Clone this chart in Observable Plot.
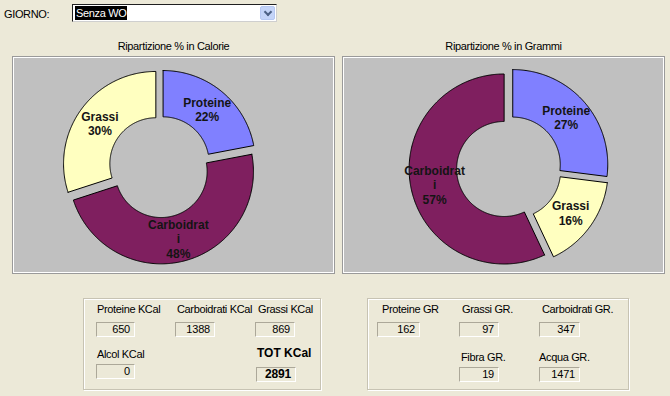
<!DOCTYPE html>
<html><head><meta charset="utf-8">
<script src="https://cdn.jsdelivr.net/npm/d3@7"></script>
<script src="https://cdn.jsdelivr.net/npm/@observablehq/plot@0.6"></script>
<style>
html,body{margin:0;padding:0;}
body{width:670px;height:396px;background:#ECE9D8;position:relative;overflow:hidden;font-family:"Liberation Sans",Arial,sans-serif;font-size:11px;color:#000;}
.abs{position:absolute;white-space:nowrap;line-height:13px;letter-spacing:-0.35px;}
.panel{position:absolute;box-sizing:border-box;background:#C0C0C0;border:1px solid #9a9a9a;box-shadow:inset 1px 1px 0 #fff, inset -1px -1px 0 #fff;}
.group{position:absolute;box-sizing:border-box;border:1px solid #c7c3b3;box-shadow:inset 1px 1px 0 #fff,1px 1px 0 #fff;}
.vbox{position:absolute;box-sizing:border-box;border-top:1px solid #aca899;border-left:1px solid #aca899;border-bottom:1px solid #fff;border-right:1px solid #fff;text-align:right;padding-right:4px;line-height:13px;letter-spacing:-0.2px;}
.chart{position:absolute;}
</style>
</head><body>
<script>
// ---- data ----
const dayLabel = "GIORNO:";
const daySelected = "Senza WO";
const chartTitles = ["Ripartizione % in Calorie", "Ripartizione % in Grammi"];
const nutrients = ["Proteine", "Carboidrati", "Grassi"];
const nutrientColors = ["#8080FF", "#7F1F5F", "#FFFFC0"];
const calorieCategories = ["Proteine", "Carboidrati", "Grassi"];
const caloriePct = [22, 48, 30];
const grammiCategories = ["Proteine", "Grassi", "Carboidrati"];
const grammiPct = [27, 16, 57];
const kcalLabels = ["Proteine KCal", "Carboidrati KCal", "Grassi KCal", "Alcol KCal", "TOT KCal"];
const kcalValues = [650, 1388, 869, 0, 2891];
const grLabels = ["Proteine GR", "Grassi GR.", "Carboidrati GR.", "Fibra GR.", "Acqua GR."];
const grValues = [162, 97, 347, 19, 1471];

// ---- layout (positions only) ----
const kcalLayout = [
  {lx:97, ly:309, bx:96, by:322, bw:39},
  {lx:177, ly:309, bx:175, by:322, bw:40},
  {lx:258, ly:309, bx:255, by:322, bw:40},
  {lx:97, ly:354, bx:96, by:364, bw:39},
  {lx:257, ly:354, bx:256, by:367, bw:40, bold:true}
];
const grLayout = [
  {lx:382, ly:309, bx:377, by:322, bw:43},
  {lx:462, ly:309, bx:459, by:322, bw:40},
  {lx:542, ly:309, bx:539, by:322, bw:41},
  {lx:461, ly:357, bx:459, by:367, bw:40},
  {lx:539, ly:357, bx:539, by:367, bw:41}
];

function el(tag, cls, style, text){
  const e = document.createElement(tag);
  if (cls) e.className = cls;
  Object.assign(e.style, style || {});
  if (text != null) e.textContent = text;
  document.body.appendChild(e);
  return e;
}

// header
el("div","abs",{left:"4px",top:"8px"},dayLabel);
el("div","",{position:"absolute",left:"72px",top:"4px",width:"205px",height:"18px",boxSizing:"border-box",background:"#fff",borderTop:"1px solid #202020",borderLeft:"1px solid #202020",borderRight:"1px solid #cfcfcf",borderBottom:"1px solid #cfcfcf"});
el("div","abs",{left:"75px",top:"6px",height:"14px",padding:"0 1px 0 1px",background:"#000",color:"#fff",lineHeight:"14px"},daySelected);
el("div","",{position:"absolute",left:"260px",top:"6px",width:"15px",height:"14px",background:"#C4D4F8",borderRadius:"2px",boxSizing:"border-box",border:"1px solid #b6c8f2"});
el("div","",{position:"absolute",left:"265px",top:"9px",width:"4px",height:"4px",borderRight:"2px solid #4d6185",borderBottom:"2px solid #4d6185",transform:"rotate(45deg)"});

// titles
el("div","abs",{left:"12px",width:"323px",textAlign:"center",top:"40px"},chartTitles[0]);
el("div","abs",{left:"342px",width:"323px",textAlign:"center",top:"40px"},chartTitles[1]);

// panels
el("div","panel",{left:"12px",top:"56px",width:"323px",height:"218px"});
el("div","panel",{left:"342px",top:"56px",width:"323px",height:"218px"});

function wrapLabel(s){ return s.length > 10 ? s.slice(0,10) + "\n" + s.slice(10) : s; }

function donut(cats, pcts, r, ri, explode, cx, cy, W, H){
  const pie = d3.pie().sort(null).value(d => d.v)(cats.map((c,i)=>({c, v:pcts[i]})));
  const pts = [], labels = [];
  pie.forEach(p => {
    const a0 = p.startAngle, a1 = p.endAngle, am = (a0+a1)/2;
    const ox = explode*Math.sin(am), oy = explode*Math.cos(am);
    const n = Math.max(4, Math.ceil((a1-a0)/0.01));
    const ring = [];
    for (let k=0;k<=n;k++){ const a=a0+(a1-a0)*k/n; ring.push({key:p.data.c, x:ox+r*Math.sin(a), y:oy+r*Math.cos(a)}); }
    for (let k=n;k>=0;k--){ const a=a0+(a1-a0)*k/n; ring.push({key:p.data.c, x:ox+ri*Math.sin(a), y:oy+ri*Math.cos(a)}); }
    ring.push({...ring[0]});
    pts.push(...ring);
    const rm = (r+ri)/2;
    labels.push({key:p.data.c, x:ox+rm*Math.sin(am), y:oy+rm*Math.cos(am), text: wrapLabel(p.data.c) + "\n" + p.data.v + "%"});
  });
  return Plot.plot({
    width: W, height: H, margin: 0,
    x: {domain: [-cx, W-cx], axis: null},
    y: {domain: [cy-H, cy], axis: null},
    color: {domain: nutrients, range: nutrientColors},
    style: {background: "transparent", overflow: "visible"},
    marks: [
      Plot.line(pts, {x:"x", y:"y", z:"key", fill:"key", stroke:"#000", strokeWidth:1, curve:"linear", strokeLinejoin:"miter"}),
      Plot.text(labels, {x:"x", y:"y", text:"text", fontWeight:"bold", fontSize:12, fill:"#141414", lineHeight:1.2, fontFamily:"Liberation Sans, Arial, sans-serif"})
    ]
  });
}

const c1 = donut(calorieCategories, caloriePct, 92.3, 46, 5, 145.4, 108.2, 320, 215);
c1.classList.add("chart"); c1.style.left="14px"; c1.style.top="58px";
document.body.appendChild(c1);
const c2 = donut(grammiCategories, grammiPct, 95, 47.5, 5, 164.5, 109.4, 320, 215);
c2.classList.add("chart"); c2.style.left="344px"; c2.style.top="58px";
document.body.appendChild(c2);

// group boxes
el("div","group",{left:"83px",top:"298px",width:"238px",height:"92px"});
el("div","group",{left:"367px",top:"298px",width:"262px",height:"92px"});

function fields(labels, values, layout){
  labels.forEach((lab,i)=>{
    const L = layout[i];
    const bold = !!L.bold;
    el("div","abs",{left:L.lx+"px",top:(L.ly-(bold?7:6))+"px",fontWeight:bold?"bold":"normal",fontSize:bold?"12px":"11px",letterSpacing:bold?"0px":"-0.35px"},lab);
    el("div","vbox",{left:L.bx+"px",top:L.by+"px",width:L.bw+"px",height:"15px",fontWeight:bold?"bold":"normal",fontSize:bold?"12px":"11px"},String(values[i]));
  });
}
fields(kcalLabels, kcalValues, kcalLayout);
fields(grLabels, grValues, grLayout);
</script>
</body></html>
